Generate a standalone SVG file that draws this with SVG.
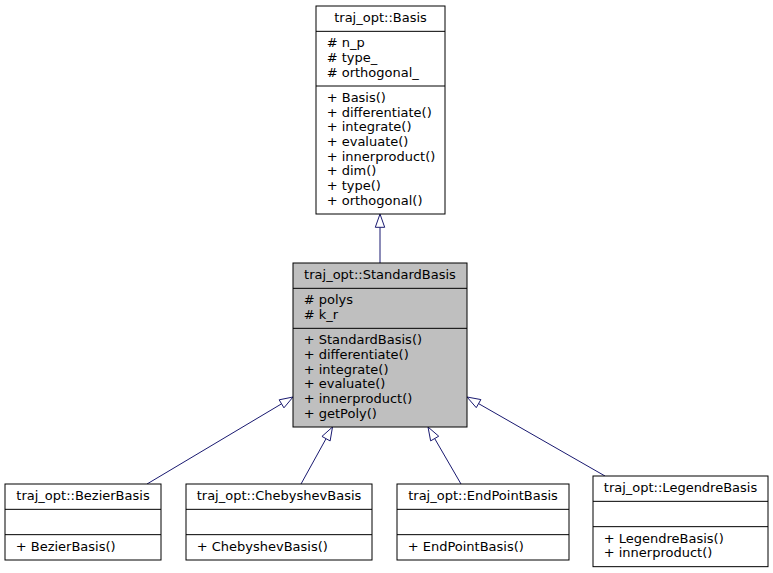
<svg xmlns="http://www.w3.org/2000/svg" width="773" height="573" viewBox="0 0 773 573">
<style>
text{font-family:"DejaVu Sans","Liberation Sans",sans-serif;font-size:13px;fill:#000}
.t{text-anchor:middle}
.box{fill:#fff;stroke:#000;stroke-width:1}
.cur{fill:#bfbfbf;stroke:#000;stroke-width:1}
.sep{stroke:#000;stroke-width:1;fill:none}
.edge{stroke:#191970;stroke-width:1;fill:none}
.head{stroke:#191970;stroke-width:1;fill:#fff}
</style>
<rect width="773" height="573" fill="#fff"/>
<g id="connectors">
<line class="edge" x1="380" y1="263" x2="380" y2="227.3"/>
<polygon class="head" points="380,214 375.3,227.3 384.7,227.3"/>
<line class="edge" x1="147" y1="484" x2="281.55" y2="403.83"/>
<polygon class="head" points="293,397 279.16,399.82 283.94,407.84"/>
<line class="edge" x1="301" y1="484" x2="326.05" y2="438.67"/>
<polygon class="head" points="332.5,427 321.96,436.41 330.14,440.93"/>
<line class="edge" x1="461" y1="484" x2="434.68" y2="438.54"/>
<polygon class="head" points="428,427 438.72,436.2 430.64,440.88"/>
<line class="edge" x1="605" y1="476" x2="478.57" y2="403.62"/>
<polygon class="head" points="467,397 480.89,399.57 476.25,407.67"/>
</g>
<g id="node-basis">
<rect class="box" x="316" y="6" width="129" height="208"/>
<line class="sep" x1="316" y1="31.33" x2="445" y2="31.33"/>
<line class="sep" x1="316" y1="86" x2="445" y2="86"/>
<text class="t" x="380.5" y="22">traj_opt::Basis</text>
<text x="326.7" y="47.3"># n_p</text>
<text x="326.7" y="62"># type_</text>
<text x="326.7" y="76.7"># orthogonal_</text>
<text x="326.7" y="102">+ Basis()</text>
<text x="326.7" y="116.7">+ differentiate()</text>
<text x="326.7" y="131.3">+ integrate()</text>
<text x="326.7" y="146">+ evaluate()</text>
<text x="326.7" y="160.7">+ innerproduct()</text>
<text x="326.7" y="175.3">+ dim()</text>
<text x="326.7" y="190">+ type()</text>
<text x="326.7" y="204.7">+ orthogonal()</text>
</g>
<g id="node-standardbasis">
<rect class="cur" x="293" y="263" width="174" height="164"/>
<line class="sep" x1="293" y1="288.33" x2="467" y2="288.33"/>
<line class="sep" x1="293" y1="328.33" x2="467" y2="328.33"/>
<text class="t" x="380" y="279">traj_opt::StandardBasis</text>
<text x="303.7" y="304.3"># polys</text>
<text x="303.7" y="319"># k_r</text>
<text x="303.7" y="344.3">+ StandardBasis()</text>
<text x="303.7" y="359">+ differentiate()</text>
<text x="303.7" y="373.7">+ integrate()</text>
<text x="303.7" y="388.3">+ evaluate()</text>
<text x="303.7" y="403">+ innerproduct()</text>
<text x="303.7" y="417.7">+ getPoly()</text>
</g>
<g id="node-bezierbasis">
<rect class="box" x="5" y="484" width="156" height="76"/>
<line class="sep" x1="5" y1="509.33" x2="161" y2="509.33"/>
<line class="sep" x1="5" y1="534.67" x2="161" y2="534.67"/>
<text class="t" x="83" y="500">traj_opt::BezierBasis</text>
<text x="15.7" y="550.7">+ BezierBasis()</text>
</g>
<g id="node-chebyshevbasis">
<rect class="box" x="186" y="484" width="186" height="76"/>
<line class="sep" x1="186" y1="509.33" x2="372" y2="509.33"/>
<line class="sep" x1="186" y1="534.67" x2="372" y2="534.67"/>
<text class="t" x="279" y="500">traj_opt::ChebyshevBasis</text>
<text x="196.7" y="550.7">+ ChebyshevBasis()</text>
</g>
<g id="node-endpointbasis">
<rect class="box" x="397" y="484" width="172" height="76"/>
<line class="sep" x1="397" y1="509.33" x2="569" y2="509.33"/>
<line class="sep" x1="397" y1="534.67" x2="569" y2="534.67"/>
<text class="t" x="483" y="500">traj_opt::EndPointBasis</text>
<text x="407.7" y="550.7">+ EndPointBasis()</text>
</g>
<g id="node-legendrebasis">
<rect class="box" x="593" y="476" width="175" height="90.67"/>
<line class="sep" x1="593" y1="501.33" x2="768" y2="501.33"/>
<line class="sep" x1="593" y1="526.67" x2="768" y2="526.67"/>
<text class="t" x="680.5" y="492">traj_opt::LegendreBasis</text>
<text x="603.7" y="542.7">+ LegendreBasis()</text>
<text x="603.7" y="557.3">+ innerproduct()</text>
</g>
</svg>
